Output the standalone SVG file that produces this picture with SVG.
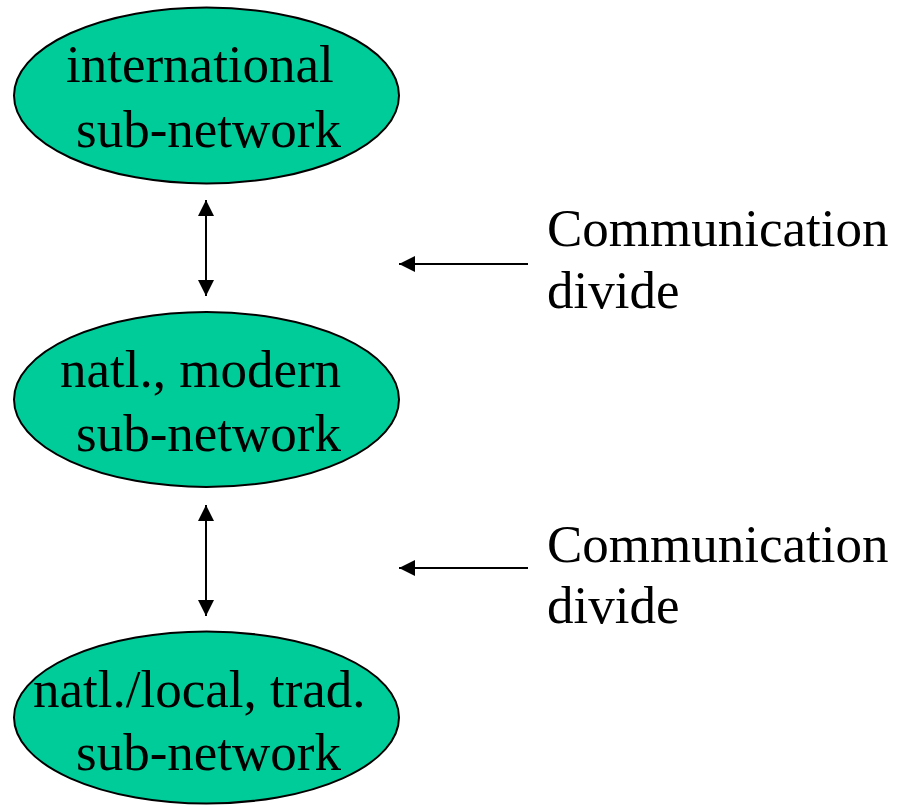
<svg xmlns="http://www.w3.org/2000/svg" width="897" height="805" viewBox="0 0 897 805">
  <style>
    .node ellipse { fill: #00CC99; stroke: #000000; stroke-width: 2; }
    text { font-family: "Liberation Serif", "Times New Roman", serif; font-size: 53px; fill: #000000; }
    .conn line { stroke: #000000; stroke-width: 2; fill: none; }
  </style>
  <defs>
    <marker id="head" viewBox="0 0 16 16" refX="16" refY="8" markerWidth="16" markerHeight="16" markerUnits="userSpaceOnUse" orient="auto-start-reverse">
      <path d="M0,0 L16,8 L0,16 Z" fill="#000000"/>
    </marker>
  </defs>

  <rect width="897" height="805" fill="#ffffff"/>

  <g id="international" class="node">
    <ellipse cx="206.5" cy="95.5" rx="192.5" ry="88"/>
    <text x="66" y="82">international</text>
    <text x="76" y="147">sub-network</text>
  </g>

  <g id="national-modern" class="node">
    <ellipse cx="206.5" cy="399.5" rx="192.5" ry="87.5"/>
    <text x="60" y="387">natl., modern</text>
    <text x="76" y="451">sub-network</text>
  </g>

  <g id="national-local-traditional" class="node">
    <ellipse cx="206.5" cy="717.5" rx="192.5" ry="86"/>
    <text x="33" y="707">natl./local, trad.</text>
    <text x="76" y="770">sub-network</text>
  </g>

  <g id="divide-label-1">
    <text x="547" y="246">Communication</text>
    <text x="547" y="308">divide</text>
  </g>

  <g id="divide-label-2">
    <text x="547" y="562">Communication</text>
    <text x="547" y="623">divide</text>
  </g>

  <g class="conn" id="connectors">
    <line x1="206" y1="200" x2="206" y2="296" marker-start="url(#head)" marker-end="url(#head)"/>
    <line x1="206" y1="505" x2="206" y2="616" marker-start="url(#head)" marker-end="url(#head)"/>
    <line x1="528" y1="264" x2="399" y2="264" marker-end="url(#head)"/>
    <line x1="528" y1="568" x2="399" y2="568" marker-end="url(#head)"/>
  </g>
</svg>
